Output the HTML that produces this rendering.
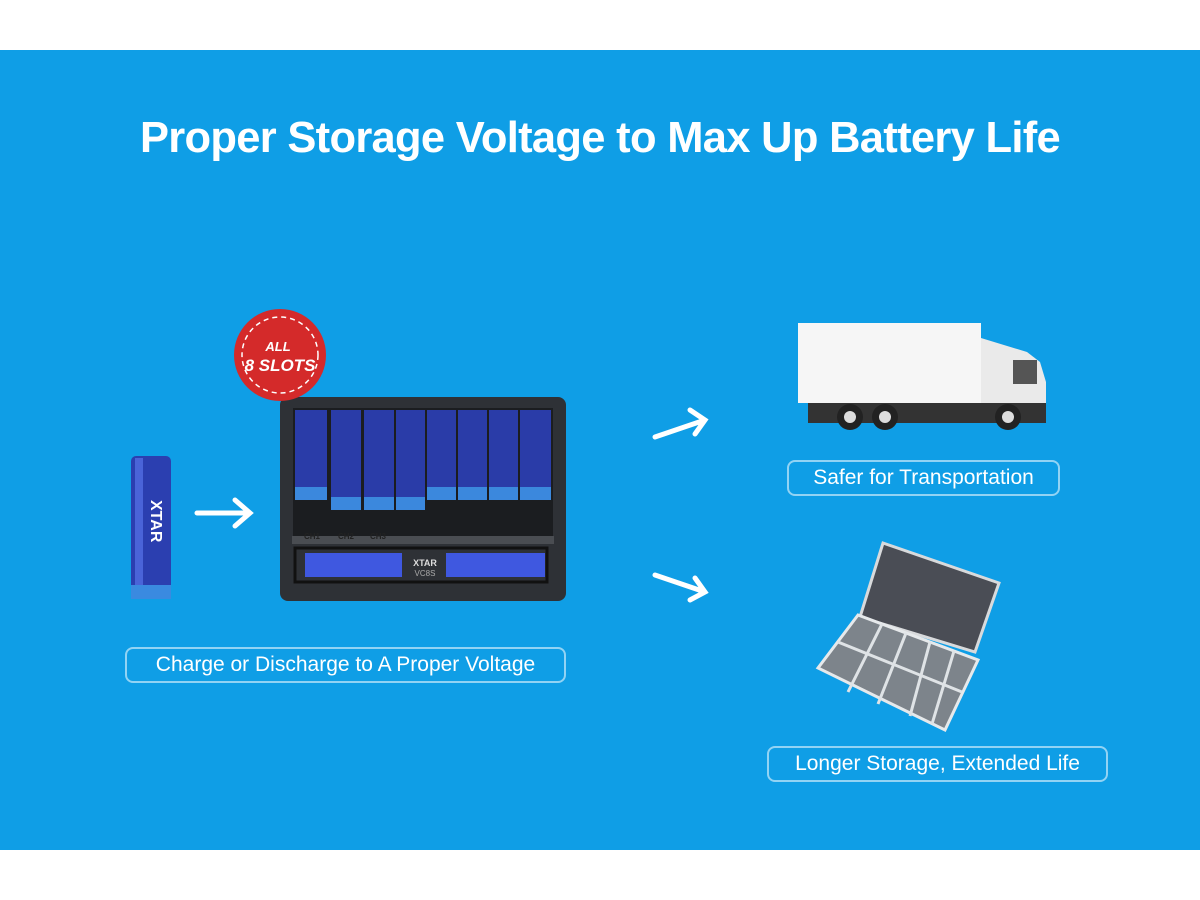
<!DOCTYPE html>
<html><head><meta charset="utf-8"><style>
body{margin:0;width:1200px;height:900px;background:#fff;position:relative;overflow:hidden;font-family:"Liberation Sans",sans-serif}
#bg{position:absolute;left:0;top:50px;width:1200px;height:800px;background:#0f9ee6}
h1{position:absolute;left:0;top:114px;width:1200px;margin:0;text-align:center;color:#fff;font-size:43.5px;font-weight:bold;letter-spacing:-0.7px}
.lbl{position:absolute;border:2px solid rgba(255,255,255,.55);border-radius:8px;color:#fff;font-size:21px;line-height:32px;text-align:center;box-sizing:border-box}
.a{position:absolute}
</style></head><body>
<div id="bg"></div>
<h1>Proper Storage Voltage to Max Up Battery Life</h1>
<svg class="a" style="left:0;top:0" width="1200" height="900">
<rect x="131" y="456" width="40" height="143" rx="5" fill="#2b3fb0"/>
<rect x="135" y="458" width="8" height="138" fill="#4a64d8"/>
<rect x="131" y="585" width="40" height="14" fill="#3a8ae0"/>
<text x="151" y="500" fill="#fff" font-size="16" font-weight="bold" transform="rotate(90 151 500)" font-family="Liberation Sans">XTAR</text>
<g stroke="#fff" stroke-width="5" fill="none" stroke-linecap="round">
<path d="M197 513H248M235 500L250 513L235 526"/>
<path d="M655 437L705 420M690 410L705 420L695 434"/>
<path d="M655 575L705 592M695 578L705 592L690 600"/>
</g>
<rect x="280" y="397" width="286" height="204" rx="8" fill="#2e3136"/>
<rect x="293" y="408" width="260" height="128" fill="#1b1d20"/>
<rect x="292" y="536" width="262" height="8" fill="#4a4d52"/>
<g fill="#2a3ca8">
<rect x="295" y="410" width="32" height="90"/><rect x="331" y="410" width="30" height="100"/><rect x="364" y="410" width="30" height="100"/><rect x="396" y="410" width="29" height="100"/>
<rect x="427" y="410" width="29" height="90"/><rect x="458" y="410" width="29" height="90"/><rect x="489" y="410" width="29" height="90"/><rect x="520" y="410" width="31" height="90"/>
</g>
<g fill="#3b88dd"><rect x="295" y="487" width="32" height="13"/><rect x="331" y="497" width="30" height="13"/><rect x="364" y="497" width="30" height="13"/><rect x="396" y="497" width="29" height="13"/><rect x="427" y="487" width="29" height="13"/><rect x="458" y="487" width="29" height="13"/><rect x="489" y="487" width="29" height="13"/><rect x="520" y="487" width="31" height="13"/></g>
<rect x="305" y="553" width="97" height="24" fill="#3f58e0"/>
<rect x="446" y="553" width="99" height="24" fill="#3f58e0"/>
<rect x="295" y="548" width="252" height="34" fill="none" stroke="#111" stroke-width="3"/>
<text x="425" y="566" fill="#ddd" font-size="9" text-anchor="middle" font-weight="bold">XTAR</text>
<text x="425" y="576" fill="#aaa" font-size="8" text-anchor="middle">VC8S</text>
<g fill="#222" font-size="8" font-weight="bold"><text x="304" y="539">CH1</text><text x="338" y="539">CH2</text><text x="370" y="539">CH3</text></g>
<circle cx="280" cy="355" r="46" fill="#d42a2a"/>
<circle cx="280" cy="355" r="38" fill="none" stroke="#fff" stroke-width="1.5" stroke-dasharray="5 4"/>
<text x="278" y="351" fill="#fff" font-size="13" font-weight="bold" font-style="italic" text-anchor="middle">ALL</text>
<text x="280" y="371" fill="#fff" font-size="17" font-weight="bold" font-style="italic" text-anchor="middle">8 SLOTS</text>
<rect x="798" y="323" width="183" height="80" fill="#f6f6f6"/>
<path d="M981 338L1027 352L1040 362L1046 382L1046 420L981 420Z" fill="#eaeaea"/>
<rect x="1013" y="360" width="24" height="24" fill="#555"/>
<rect x="808" y="403" width="238" height="20" fill="#333"/>
<g fill="#222"><circle cx="850" cy="417" r="13"/><circle cx="885" cy="417" r="13"/><circle cx="1008" cy="417" r="13"/></g>
<g fill="#ddd"><circle cx="850" cy="417" r="6"/><circle cx="885" cy="417" r="6"/><circle cx="1008" cy="417" r="6"/></g>
<path d="M883 543L999 583L975 652L860 617Z" fill="#4a4d55" stroke="#d8dadc" stroke-width="3"/>
<path d="M858 615L978 660L945 730L818 668Z" fill="#7d848b" stroke="#e6e9eb" stroke-width="3"/>
<g stroke="#dfe3e6" stroke-width="3" fill="none">
<path d="M882 624L848 692M906 633L878 704M930 642L910 716M954 651L932 724"/>
<path d="M838 642L962 692"/>
</g>
</svg>
<div class="lbl" style="left:125px;top:647px;width:441px;height:36px">Charge or Discharge to A Proper Voltage</div>
<div class="lbl" style="left:787px;top:460px;width:273px;height:36px">Safer for Transportation</div>
<div class="lbl" style="left:767px;top:746px;width:341px;height:36px">Longer Storage, Extended Life</div>
</body></html>
